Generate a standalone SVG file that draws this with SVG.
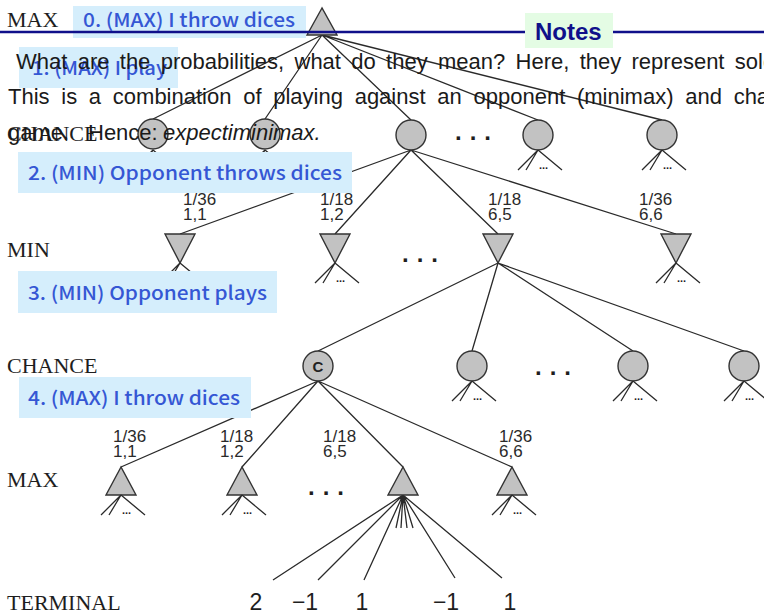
<svg xmlns="http://www.w3.org/2000/svg" xmlns:xlink="http://www.w3.org/1999/xlink" width="764" height="614" viewBox="0 0 764 614">
  <style>
    .edge { stroke: #2a2a2a; stroke-width: 1.3; fill: none; }
    .node { fill: #c2c2c2; stroke: #333333; stroke-width: 1.4; }
    .lvl { font-family: "Liberation Serif", "Times New Roman", serif; font-size: 22px; fill: #1e1e1e; }
    .prob { font-family: "Liberation Sans", Arial, sans-serif; font-size: 17px; fill: #2a2a2a; }
    .term { font-family: "Liberation Sans", Arial, sans-serif; font-size: 23px; fill: #1e1e1e; text-anchor: middle; }
    .more { font-family: "Liberation Sans", Arial, sans-serif; font-size: 24px; font-weight: bold; fill: #1e1e1e; letter-spacing: 8px; }
    .few { font-family: "Liberation Sans", Arial, sans-serif; font-size: 11px; font-weight: bold; fill: #1e1e1e; }
    .clabel { font-family: "Liberation Sans", Arial, sans-serif; font-size: 15px; font-weight: bold; fill: #222; text-anchor: middle; }
    .tag rect { fill: #d5eefc; }
    .tag text { font-family: "Noto Sans CJK JP", "Noto Sans", sans-serif; font-weight: 500; font-size: 19px; fill: #3557d4; }
    .note { font-family: "Liberation Sans", Arial, sans-serif; font-size: 22px; fill: #1a1a1a; }
    .rule { stroke: #10108a; stroke-width: 2.5; }
  </style>
  <defs>
    <!-- collapsed subtree: three child stubs and an ellipsis -->
    <g id="stubs">
      <path class="edge" d="M0,0 L-20,20 M0,0 L-12,20 M0,0 L24,20"/>
      <text class="few" x="1" y="19">...</text>
    </g>
  </defs>

  <rect width="764" height="614" fill="#ffffff"/>

  <!-- connectors -->
  <g id="connectors">
    <!-- root MAX to chance nodes -->
    <path class="edge" d="M322,35 L153,119 M322,35 L265,119 M322,35 L411,120 M322,35 L538,120 M322,35 L662,120"/>
    <!-- chance node to MIN nodes -->
    <path class="edge" d="M411,150 L180,234 M411,150 L335,234 M411,150 L498,234 M411,150 L676,234"/>
    <!-- MIN node to chance nodes -->
    <path class="edge" d="M498,263 L318,351 M498,263 L472,351 M498,263 L633,351 M498,263 L744,351"/>
    <!-- chance node C to MAX nodes -->
    <path class="edge" d="M318,381 L121,467 M318,381 L242,467 M318,381 L403,467 M318,381 L512,467"/>
    <!-- MAX node to terminals -->
    <path class="edge" d="M403,495 L273,580 M403,495 L318,580 M403,495 L364,580 M403,495 L455,578 M403,495 L502,578 M403,495 L396,528 M403,495 L401,528 M403,495 L407,528 M403,495 L413,528"/>
  </g>

  <!-- level labels -->
  <g id="levels">
    <text class="lvl" x="7" y="27">MAX</text>
    <text class="lvl" x="7" y="141">CHANCE</text>
    <text class="lvl" x="7" y="257">MIN</text>
    <text class="lvl" x="7" y="373">CHANCE</text>
    <text class="lvl" x="7" y="487">MAX</text>
    <text class="lvl" x="7" y="610">TERMINAL</text>
  </g>

  <!-- root -->
  <g id="root-max"><polygon class="node" points="322,8 307,35 337,35"/></g>

  <!-- chance layer 1 -->
  <g id="chance-1a"><circle class="node" cx="153" cy="134" r="15"/><use xlink:href="#stubs" x="153" y="150"/></g>
  <g id="chance-1b"><circle class="node" cx="265" cy="134" r="15"/><use xlink:href="#stubs" x="265" y="150"/></g>
  <g id="chance-1c"><circle class="node" cx="411" cy="135" r="15"/></g>
  <g id="chance-1d"><circle class="node" cx="538" cy="135" r="15"/><use xlink:href="#stubs" x="538" y="150"/></g>
  <g id="chance-1e"><circle class="node" cx="662" cy="135" r="15"/><use xlink:href="#stubs" x="662" y="150"/></g>
  <text class="more" x="455" y="140">...</text>

  <!-- MIN layer -->
  <g id="min-a"><polygon class="node" points="165,234 195,234 180,263"/><use xlink:href="#stubs" x="180" y="263"/></g>
  <g id="min-b"><polygon class="node" points="320,234 350,234 335,263"/><use xlink:href="#stubs" x="335" y="263"/></g>
  <g id="min-c"><polygon class="node" points="483,234 513,234 498,263"/></g>
  <g id="min-d"><polygon class="node" points="661,234 691,234 676,263"/><use xlink:href="#stubs" x="676" y="263"/></g>
  <text class="more" x="402" y="262">...</text>

  <!-- chance layer 2 -->
  <g id="chance-2a"><circle class="node" cx="318" cy="366" r="15"/><text class="clabel" x="318" y="372">C</text></g>
  <g id="chance-2b"><circle class="node" cx="472" cy="366" r="15"/><use xlink:href="#stubs" x="472" y="381"/></g>
  <g id="chance-2c"><circle class="node" cx="633" cy="366" r="15"/><use xlink:href="#stubs" x="633" y="381"/></g>
  <g id="chance-2d"><circle class="node" cx="744" cy="366" r="15"/><use xlink:href="#stubs" x="744" y="381"/></g>
  <text class="more" x="535" y="375">...</text>

  <!-- MAX layer 2 -->
  <g id="max-a"><polygon class="node" points="121,467 106,495 136,495"/><use xlink:href="#stubs" x="121" y="495"/></g>
  <g id="max-b"><polygon class="node" points="242,467 227,495 257,495"/><use xlink:href="#stubs" x="242" y="495"/></g>
  <g id="max-c"><polygon class="node" points="403,467 388,495 418,495"/></g>
  <g id="max-d"><polygon class="node" points="512,467 497,495 527,495"/><use xlink:href="#stubs" x="512" y="495"/></g>
  <text class="more" x="308" y="495">...</text>

  <!-- dice outcome probabilities -->
  <g id="probs">
    <text class="prob" x="183" y="205">1/36</text><text class="prob" x="183" y="220">1,1</text>
    <text class="prob" x="320" y="205">1/18</text><text class="prob" x="320" y="220">1,2</text>
    <text class="prob" x="488" y="205">1/18</text><text class="prob" x="488" y="220">6,5</text>
    <text class="prob" x="639" y="205">1/36</text><text class="prob" x="639" y="220">6,6</text>
    <text class="prob" x="113" y="442">1/36</text><text class="prob" x="113" y="457">1,1</text>
    <text class="prob" x="220" y="442">1/18</text><text class="prob" x="220" y="457">1,2</text>
    <text class="prob" x="323" y="442">1/18</text><text class="prob" x="323" y="457">6,5</text>
    <text class="prob" x="499" y="442">1/36</text><text class="prob" x="499" y="457">6,6</text>
  </g>

  <!-- terminal utilities -->
  <g id="terminals">
    <text class="term" x="256" y="610">2</text>
    <text class="term" x="305" y="610">−1</text>
    <text class="term" x="362" y="610">1</text>
    <text class="term" x="446" y="610">−1</text>
    <text class="term" x="510" y="610">1</text>
  </g>

  <!-- step annotations -->
  <g id="step-0" class="tag"><rect x="73" y="6" width="233" height="32"/><text x="83" y="27" textLength="212" lengthAdjust="spacingAndGlyphs">0. (MAX) I throw dices</text></g>
  <g id="step-1" class="tag"><rect x="19" y="47" width="159" height="41"/><text x="32" y="75" textLength="135" lengthAdjust="spacingAndGlyphs">1. (MAX) I play</text></g>
  <g id="step-2" class="tag"><rect x="18" y="152" width="334" height="41"/><text x="28" y="180" textLength="314" lengthAdjust="spacingAndGlyphs">2. (MIN) Opponent throws dices</text></g>
  <g id="step-3" class="tag"><rect x="18" y="271" width="259" height="42"/><text x="28" y="300" textLength="239" lengthAdjust="spacingAndGlyphs">3. (MIN) Opponent plays</text></g>
  <g id="step-4" class="tag"><rect x="19" y="377" width="232" height="41"/><text x="28" y="405" textLength="212" lengthAdjust="spacingAndGlyphs">4. (MAX) I throw dices</text></g>

  <!-- notes header and body (justified paragraph) -->
  <g id="notes">
    <line class="rule" x1="0" y1="32" x2="525" y2="32"/>
    <line class="rule" x1="613" y1="32" x2="764" y2="32"/>
    <rect x="525" y="13" width="88" height="35" fill="#e4fce4"/>
    <text x="535" y="40" font-family="Liberation Sans, Arial, sans-serif" font-size="24" font-weight="bold" fill="#10108a">Notes</text>
    <text class="note" x="16" y="69" word-spacing="4.2">What are the probabilities, what do they mean? Here, they represent sole</text>
    <text class="note" x="8" y="104" word-spacing="5.6">This is a combination of playing against an opponent (minimax) and cha</text>
    <text class="note" y="140"><tspan x="8">game.</tspan><tspan x="88">Hence:</tspan><tspan x="163" font-style="italic">expectiminimax.</tspan></text>
  </g>
</svg>
